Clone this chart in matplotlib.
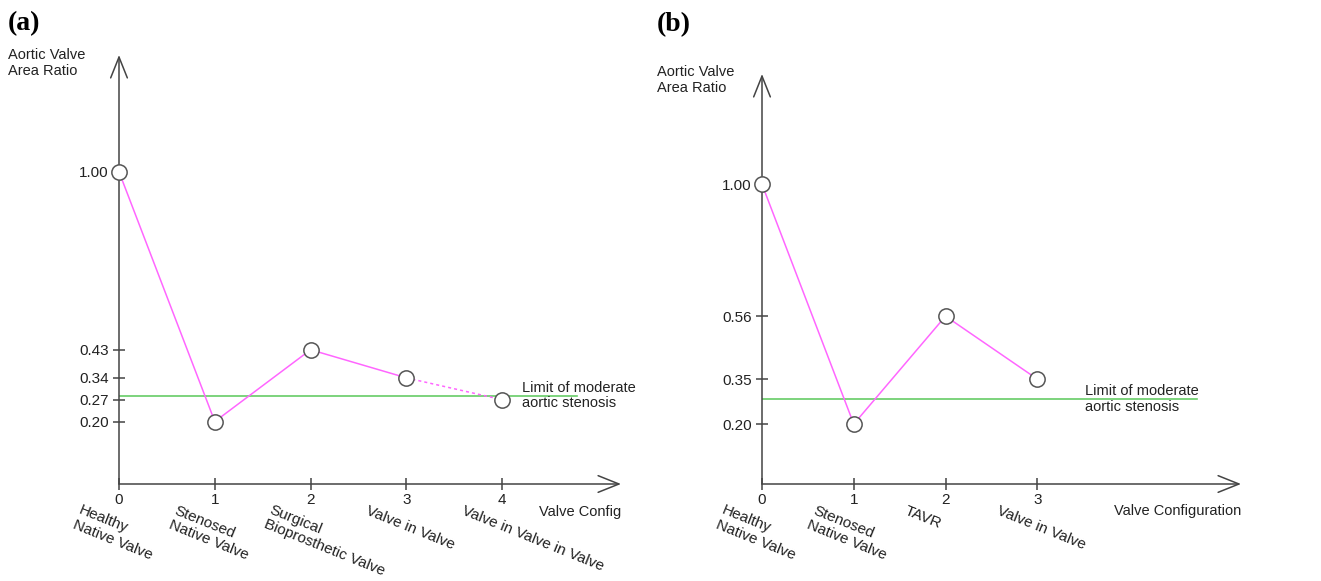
import numpy as np
import matplotlib.pyplot as plt

plt.rcParams['font.family'] = ['Liberation Sans', 'DejaVu Sans']

# Panel (a) data
x_a = [0, 1, 2, 3, 4]
ratio_a = [1.00, 0.20, 0.43, 0.34, 0.27]
names_a = ['Healthy\nNative Valve', 'Stenosed\nNative Valve',
           'Surgical\nBioprosthetic Valve', 'Valve in Valve',
           'Valve in Valve in Valve']
yticks_a = [1.00, 0.43, 0.34, 0.27, 0.20]

# Panel (b) data
x_b = [0, 1, 2, 3]
ratio_b = [1.00, 0.20, 0.56, 0.35]
names_b = ['Healthy\nNative Valve', 'Stenosed\nNative Valve', 'TAVR',
           'Valve in Valve']
yticks_b = [1.00, 0.56, 0.35, 0.20]

limit = 0.283

magenta = '#ff66ff'
green = '#66cc66'
axcol = '#444444'

W, H = 1321, 581
fig = plt.figure(figsize=(W / 100, H / 100), dpi=100)


def px_axes(left, right, bottom, top):
    return fig.add_axes([left / W, (H - bottom) / H, (right - left) / W,
                         (bottom - top) / H])


def setup(ax, xmax, ymax, xticks, yticks, xlabel):
    ax.set_xlim(0, xmax)
    ax.set_ylim(0, ymax)
    for s in ax.spines.values():
        s.set_visible(False)
    ax.patch.set_visible(False)
    arrow = dict(arrowstyle='->,head_length=1.5,head_width=0.6',
                 color=axcol, lw=1.1, shrinkA=0, shrinkB=0)
    ax.annotate('', xy=(xmax, 0), xytext=(0, 0), arrowprops=arrow,
                annotation_clip=False)
    ax.annotate('', xy=(0, ymax), xytext=(0, 0), arrowprops=arrow,
                annotation_clip=False)
    ax.set_xticks(xticks)
    ax.set_xticklabels([str(t) for t in xticks])
    ax.set_yticks(yticks)
    ax.set_yticklabels(['%.2f' % t for t in yticks])
    ax.tick_params(direction='inout', length=9, width=1.1, color=axcol,
                   labelsize=11, labelcolor='#222222')
    ax.tick_params(axis='x', pad=2)
    ax.tick_params(axis='y', pad=3)
    ax.text(xmax, -0.09, xlabel, ha='right', va='center', fontsize=10.5,
            color='#222222', transform=ax.transData)


def cat_labels(ax, xs, names):
    for x, name in zip(xs, names):
        ax.annotate(name, xy=(x, 0), xytext=(-27, -14),
                    textcoords='offset points', ha='left', va='top',
                    rotation=-22, rotation_mode='anchor', fontsize=11,
                    color='#222222', multialignment='left',
                    linespacing=1.1, annotation_clip=False)


marker = dict(marker='o', markersize=11, markerfacecolor='white',
              markeredgecolor='#555555', markeredgewidth=1.1, clip_on=False)

# ---- (a)
ax1 = px_axes(119, 621, 484, 55)
setup(ax1, 5.24, 1.374, x_a, yticks_a, 'Valve Config')
ax1.plot([0, 4.78], [limit, limit], color=green, lw=1.2, zorder=1)
ax1.plot(x_a[:4], ratio_a[:4], color=magenta, lw=1.1, zorder=2)
ax1.plot(x_a[3:], ratio_a[3:], color=magenta, lw=1.1, ls=(0, (2, 2)),
         zorder=2)
ax1.plot(x_a, ratio_a, ls='none', zorder=3, **marker)
ax1.text(4.21, limit, 'Limit of moderate\naortic stenosis', ha='left',
         va='center', fontsize=10.5, color='#222222', linespacing=1.15)
cat_labels(ax1, x_a, names_a)
fig.text(8 / W, 1 - 24 / H, '(a)', family='Liberation Serif',
         fontweight='bold', fontsize=20, va='center', ha='left')
fig.text(8 / W, 1 - 63 / H, 'Aortic Valve\nArea Ratio', fontsize=10.5,
         va='center', ha='left', color='#222222', linespacing=1.2)

# ---- (b)
ax2 = px_axes(762, 1241, 484, 74)
setup(ax2, 5.22, 1.368, x_b, yticks_b, 'Valve Configuration')
ax2.plot([0, 4.74], [limit, limit], color=green, lw=1.2, zorder=1)
ax2.plot(x_b, ratio_b, color=magenta, lw=1.1, zorder=2)
ax2.plot(x_b, ratio_b, ls='none', zorder=3, **marker)
ax2.text(3.52, limit, 'Limit of moderate\naortic stenosis', ha='left',
         va='center', fontsize=10.5, color='#222222', linespacing=1.15)
cat_labels(ax2, x_b, names_b)
fig.text(657 / W, 1 - 25 / H, '(b)', family='Liberation Serif',
         fontweight='bold', fontsize=20, va='center', ha='left')
fig.text(657 / W, 1 - 80 / H, 'Aortic Valve\nArea Ratio', fontsize=10.5,
         va='center', ha='left', color='#222222', linespacing=1.2)

fig.savefig('out.png', dpi=100)
